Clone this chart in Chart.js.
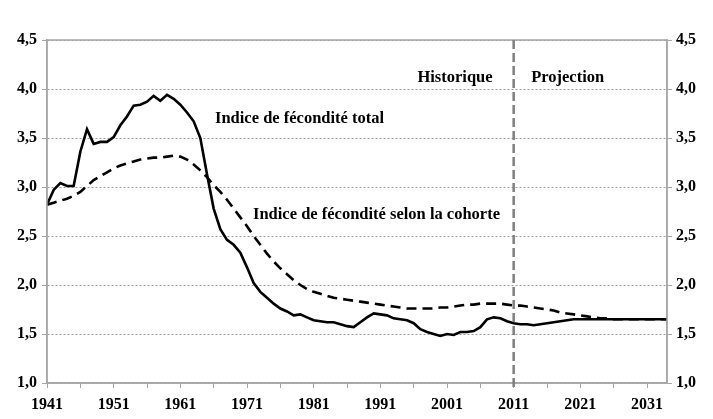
<!DOCTYPE html>
<html>
<head>
<meta charset="utf-8">
<script src="https://cdn.jsdelivr.net/npm/chart.js@4"></script>
<style>
  body { margin: 0; background: #fff; }
  #wrap { width: 713px; height: 419px; }
</style>
</head>
<body>
<div id="wrap"><canvas id="chart" width="713" height="419"></canvas></div>
<script>
const firstYear = 1941
const lastYear = 2034
const splitYear = 2011

// Indice de fécondité total (ISF), 1941-2034
const isfTotal = [
    2.82, 2.97, 3.04, 3.01, 3.01, 3.36, 3.59, 3.44, 3.46, 3.46,
    3.51, 3.63, 3.72, 3.83, 3.84, 3.87, 3.93, 3.88, 3.94, 3.90,
    3.84, 3.76, 3.67, 3.50, 3.13, 2.78, 2.57, 2.46, 2.41, 2.33,
    2.18, 2.02, 1.93, 1.87, 1.81, 1.76, 1.73, 1.69, 1.70, 1.67,
    1.64, 1.63, 1.62, 1.62, 1.60, 1.58, 1.57, 1.62, 1.67, 1.71,
    1.70, 1.69, 1.66, 1.65, 1.64, 1.61, 1.55, 1.52, 1.50, 1.48,
    1.50, 1.49, 1.52, 1.52, 1.53, 1.57, 1.65, 1.67, 1.66, 1.63,
    1.61, 1.60, 1.60, 1.59, 1.60, 1.61, 1.62, 1.63, 1.64, 1.65,
    1.65, 1.65, 1.65, 1.65, 1.65, 1.65, 1.65, 1.65, 1.65, 1.65,
    1.65, 1.65, 1.65, 1.65
]

// Indice de fécondité selon la cohorte, 1941-2034
const isfCohorte = [
    2.82, 2.84, 2.86, 2.88, 2.91, 2.95, 3.01, 3.07, 3.11, 3.15,
    3.19, 3.22, 3.24, 3.26, 3.28, 3.29, 3.30, 3.30, 3.31, 3.32,
    3.31, 3.28, 3.23, 3.17, 3.10, 3.02, 2.95, 2.87, 2.78, 2.69,
    2.60, 2.50, 2.41, 2.32, 2.24, 2.17, 2.11, 2.05, 2.00, 1.96,
    1.93, 1.91, 1.89, 1.87, 1.86, 1.85, 1.84, 1.83, 1.82, 1.81,
    1.80, 1.79, 1.78, 1.77, 1.76, 1.76, 1.76, 1.76, 1.76, 1.77,
    1.77, 1.78, 1.79, 1.80, 1.80, 1.81, 1.81, 1.81, 1.81, 1.80,
    1.79, 1.79, 1.78, 1.77, 1.76, 1.75, 1.74, 1.72, 1.71, 1.70,
    1.69, 1.68, 1.67, 1.66, 1.66, 1.65, 1.65, 1.65, 1.65, 1.65,
    1.65, 1.65, 1.65, 1.65
]

const years = isfTotal.map((v, i) => firstYear + i)
const xLabelYears = [1941, 1951, 1961, 1971, 1981, 1991, 2001, 2011, 2021, 2031]
const xTickYears = [1941, 1946, 1951, 1956, 1961, 1966, 1971, 1976, 1981, 1986, 1991, 1996,
    2001, 2006, 2011, 2016, 2021, 2026, 2031]

const serif = '"Liberation Serif", "Times New Roman", serif'
const frameGray = '#a6a6a6'

const labelsPlugin = {
    id: 'labels',
    afterDatasetsDraw(chart) {
        const ctx = chart.ctx
        const area = chart.chartArea
        const x = chart.scales.x
        const y = chart.scales.y

        // plot frame
        ctx.save()
        ctx.strokeStyle = frameGray
        ctx.lineWidth = 1.5
        ctx.strokeRect(area.left, area.top, area.right - area.left, area.bottom - area.top)

        // historique / projection separator
        const sx = x.getPixelForValue(splitYear)
        ctx.strokeStyle = '#7f7f7f'
        ctx.lineWidth = 2.5
        ctx.setLineDash([9, 4])
        ctx.beginPath()
        ctx.moveTo(sx, area.top)
        ctx.lineTo(sx, area.bottom + 6)
        ctx.stroke()
        ctx.setLineDash([])

        ctx.fillStyle = '#000'
        ctx.font = 'bold 16.5px ' + serif
        ctx.textBaseline = 'middle'
        ctx.textAlign = 'center'
        ctx.fillText('Historique', x.getPixelForValue(2002.2), y.getPixelForValue(4.11))
        ctx.fillText('Projection', x.getPixelForValue(2019.1), y.getPixelForValue(4.11))
        ctx.textAlign = 'left'
        ctx.fillText('Indice de fécondité total', x.getPixelForValue(1966.2), y.getPixelForValue(3.70))
        ctx.fillText('Indice de fécondité selon la cohorte', x.getPixelForValue(1971.9), y.getPixelForValue(2.72))
        ctx.restore()
    }
}

const fmt = (v) => v.toFixed(1).replace('.', ',')
const tickFont = { family: serif, size: 16, weight: 'bold' }

new Chart(document.getElementById('chart'), {
    type: 'line',
    data: {
        datasets: [
            {
                label: 'Indice de fécondité total',
                data: years.map((yr, i) => ({ x: yr, y: isfTotal[i] })),
                borderColor: '#000',
                borderWidth: 2.6,
                pointRadius: 0,
                tension: 0,
            },
            {
                label: 'Indice de fécondité selon la cohorte',
                data: years.map((yr, i) => ({ x: yr, y: isfCohorte[i] })),
                borderColor: '#000',
                borderWidth: 2.6,
                borderDash: [10, 6],
                pointRadius: 0,
                tension: 0,
            },
        ],
    },
    options: {
        responsive: false,
        animation: false,
        layout: { padding: { top: 40, left: 0, right: 0, bottom: 0 } },
        plugins: {
            legend: { display: false },
            tooltip: { enabled: false },
        },
        scales: {
            x: {
                type: 'linear',
                min: firstYear,
                max: lastYear,
                afterBuildTicks: (axis) => { axis.ticks = xTickYears.map(v => ({ value: v })) },
                afterFit: (axis) => { axis.height = 36 },
                ticks: {
                    autoSkip: false,
                    maxRotation: 0,
                    padding: 7,
                    color: '#000',
                    font: tickFont,
                    callback: (v) => xLabelYears.includes(v) ? String(v) : '',
                },
                grid: { drawOnChartArea: false, tickLength: 5, color: frameGray, lineWidth: 1 },
                border: { color: frameGray, width: 1.5 },
            },
            y: {
                position: 'left',
                min: 1,
                max: 4.5,
                afterFit: (axis) => { axis.width = 47 },
                ticks: { stepSize: 0.5, color: '#000', font: tickFont, padding: 5, callback: fmt },
                grid: { color: '#9a9a9a', lineWidth: 1, tickLength: 5, tickColor: frameGray, tickBorderDash: [] },
                border: { color: frameGray, width: 1.5, dash: [2, 2] },
            },
            y2: {
                position: 'right',
                min: 1,
                max: 4.5,
                afterFit: (axis) => { axis.width = 46 },
                ticks: { stepSize: 0.5, color: '#000', font: tickFont, padding: 4, callback: fmt },
                grid: { drawOnChartArea: false, tickLength: 5, color: frameGray },
                border: { color: frameGray, width: 1.5 },
            },
        },
    },
    plugins: [labelsPlugin],
})
</script>
</body>
</html>
